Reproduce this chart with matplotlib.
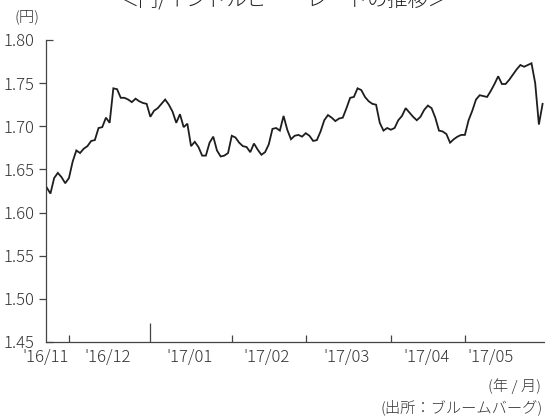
import pandas as pd
import matplotlib
matplotlib.use('Agg')
import matplotlib.pyplot as plt

# =============================================================================
# 円/インドルピー・レート（営業日ベース、2016/11/23 〜 2017/05/30）
# =============================================================================

vals_nov = [1.629, 1.622, 1.640, 1.646, 1.641, 1.634]
vals_dec = [1.640, 1.659, 1.672, 1.669, 1.674, 1.677, 1.683, 1.684, 1.698, 1.699, 1.710,
            1.704, 1.744, 1.743, 1.733, 1.733, 1.731, 1.728, 1.732, 1.729, 1.727, 1.726]
vals_jan = [1.711, 1.718, 1.721, 1.726, 1.731, 1.725, 1.717, 1.704, 1.714, 1.699, 1.703,
            1.677, 1.682, 1.676, 1.666, 1.666, 1.681, 1.688, 1.672, 1.665, 1.666, 1.669]
vals_feb = [1.689, 1.687, 1.681, 1.677, 1.676, 1.670, 1.680, 1.673, 1.667, 1.670,
            1.679, 1.697, 1.698, 1.695, 1.712, 1.696, 1.685, 1.689, 1.690, 1.688]
vals_mar = [1.692, 1.689, 1.683, 1.684, 1.694, 1.707, 1.713, 1.710, 1.706, 1.709, 1.710, 1.721,
            1.733, 1.734, 1.744, 1.742, 1.734, 1.729, 1.726, 1.725, 1.704, 1.695, 1.698]
vals_apr = [1.696, 1.698, 1.707, 1.712, 1.721, 1.716, 1.711, 1.707, 1.711, 1.719,
            1.724, 1.721, 1.710, 1.695, 1.694, 1.691, 1.681, 1.685, 1.688, 1.690]
vals_may = [1.690, 1.707, 1.718, 1.731, 1.736, 1.735, 1.734, 1.741, 1.749, 1.758, 1.749,
            1.749, 1.754, 1.760, 1.766, 1.771, 1.769, 1.771, 1.773, 1.750, 1.702, 1.726]

mes_labels = ["'16/11", "'16/12", "'17/01", "'17/02", "'17/03", "'17/04", "'17/05"]
y_ticks = [1.50, 1.55, 1.60, 1.65, 1.70, 1.75]
y_ends = [1.45, 1.80]

valores = vals_nov + vals_dec + vals_jan + vals_feb + vals_mar + vals_apr + vals_may
datas = pd.bdate_range('2016-11-23', periods=len(valores))
df = pd.DataFrame({'data': datas, 'taxa': valores})
df['idx'] = range(len(df))
df['mes'] = df['data'].dt.to_period('M')

# Fonte com glifos japoneses
plt.rcParams['font.family'] = ['Noto Sans CJK JP', 'DejaVu Sans']
plt.rcParams['font.weight'] = 'light'

fig = plt.figure(figsize=(5.45, 4.16), dpi=100)
ax = fig.add_axes([46 / 545, 1 - 342 / 416, 499 / 545, 302 / 416])

ax.plot(df['idx'], df['taxa'], color='#1e1e1e', lw=1.3, solid_joinstyle='miter')

ax.set_xlim(-0.2, len(df) - 0.35)
ax.set_ylim(1.45, 1.80)

# Eixo Y
ax.set_yticks(y_ticks, labels=[f'{v:.2f}' for v in y_ticks])
ax.set_yticks(y_ends, labels=[f'{v:.2f}' for v in y_ends], minor=True)
ax.tick_params(axis='y', which='major', direction='out', length=5, width=0.9,
               color='#444444', labelsize=12, labelcolor='#333333', pad=3)
ax.tick_params(axis='y', which='minor', direction='in', length=5, width=0.9,
               color='#444444', labelsize=12, labelcolor='#333333', pad=8)

# Eixo X: marcas no início de cada mês, rótulos no meio do mês
inicio_mes = df.groupby('mes')['idx'].min().tolist()[1:]
meio_mes = ((df.groupby('mes')['idx'].min() + df.groupby('mes')['idx'].max()) / 2).tolist()
meio_mes[0] = -0.2
meio_mes[-1] = meio_mes[-1] - 3.7
ax.set_xticks(inicio_mes, labels=[''] * len(inicio_mes))
ax.set_xticks(meio_mes, labels=mes_labels, minor=True)
ax.tick_params(axis='x', which='major', direction='in', length=5, width=0.9, color='#444444')
ax.tick_params(axis='x', which='minor', length=0, labelsize=12, labelcolor='#333333', pad=5)
# virada de ano com marca mais longa
for t, pos in zip(ax.xaxis.get_major_ticks(), inicio_mes):
    if df.loc[pos, 'data'].month == 1:
        t.tick1line.set_markersize(14)

for s in ['top', 'right']:
    ax.spines[s].set_visible(False)
for s in ['left', 'bottom']:
    ax.spines[s].set_color('#444444')
    ax.spines[s].set_linewidth(0.9)

# Textos
fig.text(0.52, 1.0, '＜円/インドルピー・レートの推移＞', ha='center', va='center',
         fontsize=14.5, color='#222222')
fig.text(27 / 545, 1 - 17 / 416, '(円)', ha='center', va='center', fontsize=11, color='#333333')
fig.text(541 / 545, 1 - 386 / 416, '(年 / 月)', ha='right', va='center', fontsize=11, color='#333333')
fig.text(543 / 545, 1 - 407 / 416, '(出所：ブルームバーグ)', ha='right', va='center',
         fontsize=11, color='#333333')

fig.savefig('out.png', dpi=100)
